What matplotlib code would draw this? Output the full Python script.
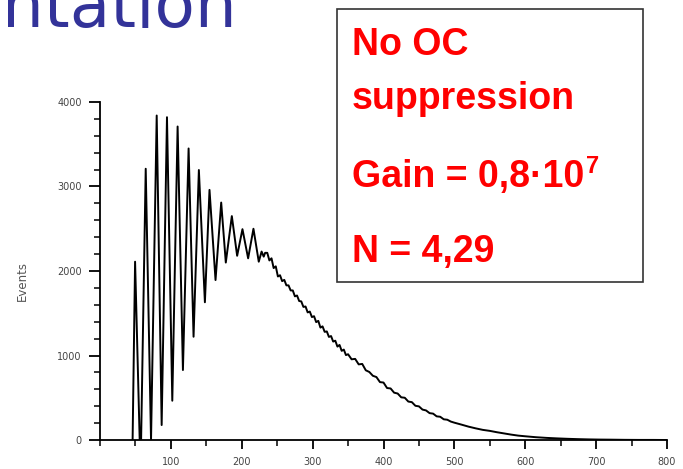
import matplotlib
matplotlib.use('Agg')
import matplotlib.pyplot as plt
from matplotlib.patches import Rectangle
from matplotlib.ticker import MultipleLocator

# charge spectrum (x = channel, y = events)
channel = [46, 49.5, 56, 58, 64.5, 72, 80, 87, 94.5, 102, 109.5, 117, 125, 132,
           139.5, 148, 154.5, 163, 171, 177.5, 186, 193.5, 201, 209, 216.5, 224,
           228, 231, 233,
           236, 239, 242, 245, 248, 251, 254, 257, 260, 263, 266, 269, 272, 275,
           278, 281, 284, 287, 290, 293, 296, 299, 302, 305, 308, 311, 314, 317,
           320, 323, 326, 329, 332, 335, 338, 341, 344, 347, 350, 355, 360, 365,
           370, 375, 380, 385, 390, 395, 400, 405, 410, 415, 420, 425, 430, 435,
           440, 445, 450, 455, 460, 465, 470, 475, 480, 485, 490, 495, 500, 510,
           520, 530, 540, 550, 560, 570, 580, 590, 600, 615, 630, 645, 660, 675,
           690, 705, 720, 740, 760, 780, 800]
events = [0, 2110, 0, 0, 3210, 0, 3840, 177, 3820, 465, 3710, 828, 3450, 1222,
          3195, 1630, 2960, 1893, 2810, 2100, 2650, 2180, 2495, 2150, 2500, 2110,
          2230, 2170, 2215,
          2215, 2125, 2150, 2035, 2055, 1935, 1950, 1880, 1895, 1830, 1830, 1770,
          1770, 1700, 1710, 1645, 1640, 1575, 1580, 1510, 1520, 1455, 1465, 1395,
          1410, 1330, 1345, 1280, 1285, 1220, 1230, 1165, 1175, 1105, 1125, 1055,
          1070, 1005, 1015, 955, 960, 895, 900, 825, 805, 760, 745, 685, 680, 615,
          610, 560, 550, 505, 500, 455, 448, 405, 398, 360, 350, 318, 312, 280,
          275, 245, 240, 218, 205, 182, 158, 138, 120, 108, 92, 78, 64, 52, 44, 33,
          25, 19, 14, 10, 7, 5, 4, 2, 1, 1, 0]

xticks = [100, 200, 300, 400, 500, 600, 700, 800]
yticks = [0, 1000, 2000, 3000, 4000]

box_lines = ['No OC', 'suppression', 'Gain = 0,8\u00b710', 'N = 4,29']
box_exp = '7'

W, H = 683, 469
fig = plt.figure(figsize=(W / 100, H / 100), dpi=100)

ax = fig.add_axes([100 / W, 1 - 440 / H, 567 / W, 338 / H])
ax.plot(channel, events, color='black', lw=1.4)
ax.set_xlim(0, 800)
ax.set_ylim(0, 4000)
ax.set_xticks(xticks)
ax.set_yticks(yticks)
ax.xaxis.set_minor_locator(MultipleLocator(50))
ax.yaxis.set_minor_locator(MultipleLocator(200))
for s in ('top', 'right'):
    ax.spines[s].set_visible(False)
for s in ('left', 'bottom'):
    ax.spines[s].set_linewidth(1.3)
ax.tick_params(axis='y', which='major', length=8, width=1.3, pad=5,
               labelsize=7, labelcolor='#444444')
ax.tick_params(axis='y', which='minor', length=4, width=1.1)
ax.tick_params(axis='x', which='major', length=6.5, width=1.3, pad=6,
               labelsize=7, labelcolor='#444444')
ax.tick_params(axis='x', which='minor', length=4, width=1.1)

fig.text(22 / W, 1 - 281 / H, 'Events', rotation=90, ha='center', va='center',
         fontsize=8.5, color='#555555')

# slide title fragment, cropped at the top like the source slide
fig.text(2 / W, 1 - 27 / H, 'ntation', fontsize=47.5, color='#333399',
         ha='left', va='baseline')

# red annotation box
fig.patches.append(Rectangle((337 / W, 1 - 282 / H), 306 / W, 273 / H,
                             transform=fig.transFigure, facecolor='white',
                             edgecolor='#333333', lw=1.2, zorder=5))
baselines = [55, 109, 187, 262]
tprops = dict(fontsize=27, color='#ff0000', fontweight='bold',
              family='Liberation Sans', ha='left', va='baseline', zorder=6)
gain = None
for txt, yb in zip(box_lines, baselines):
    t = fig.text(352 / W, 1 - yb / H, txt, **tprops)
    if txt.startswith('Gain'):
        gain = t

fig.canvas.draw()
bb = gain.get_window_extent(renderer=fig.canvas.get_renderer())
fig.text(bb.x1 / W + 2 / W, 1 - 173 / H, box_exp, fontsize=17, color='#ff0000',
         fontweight='bold', family='Liberation Sans', ha='left', va='baseline',
         zorder=6)

fig.savefig('out.png', dpi=100)
